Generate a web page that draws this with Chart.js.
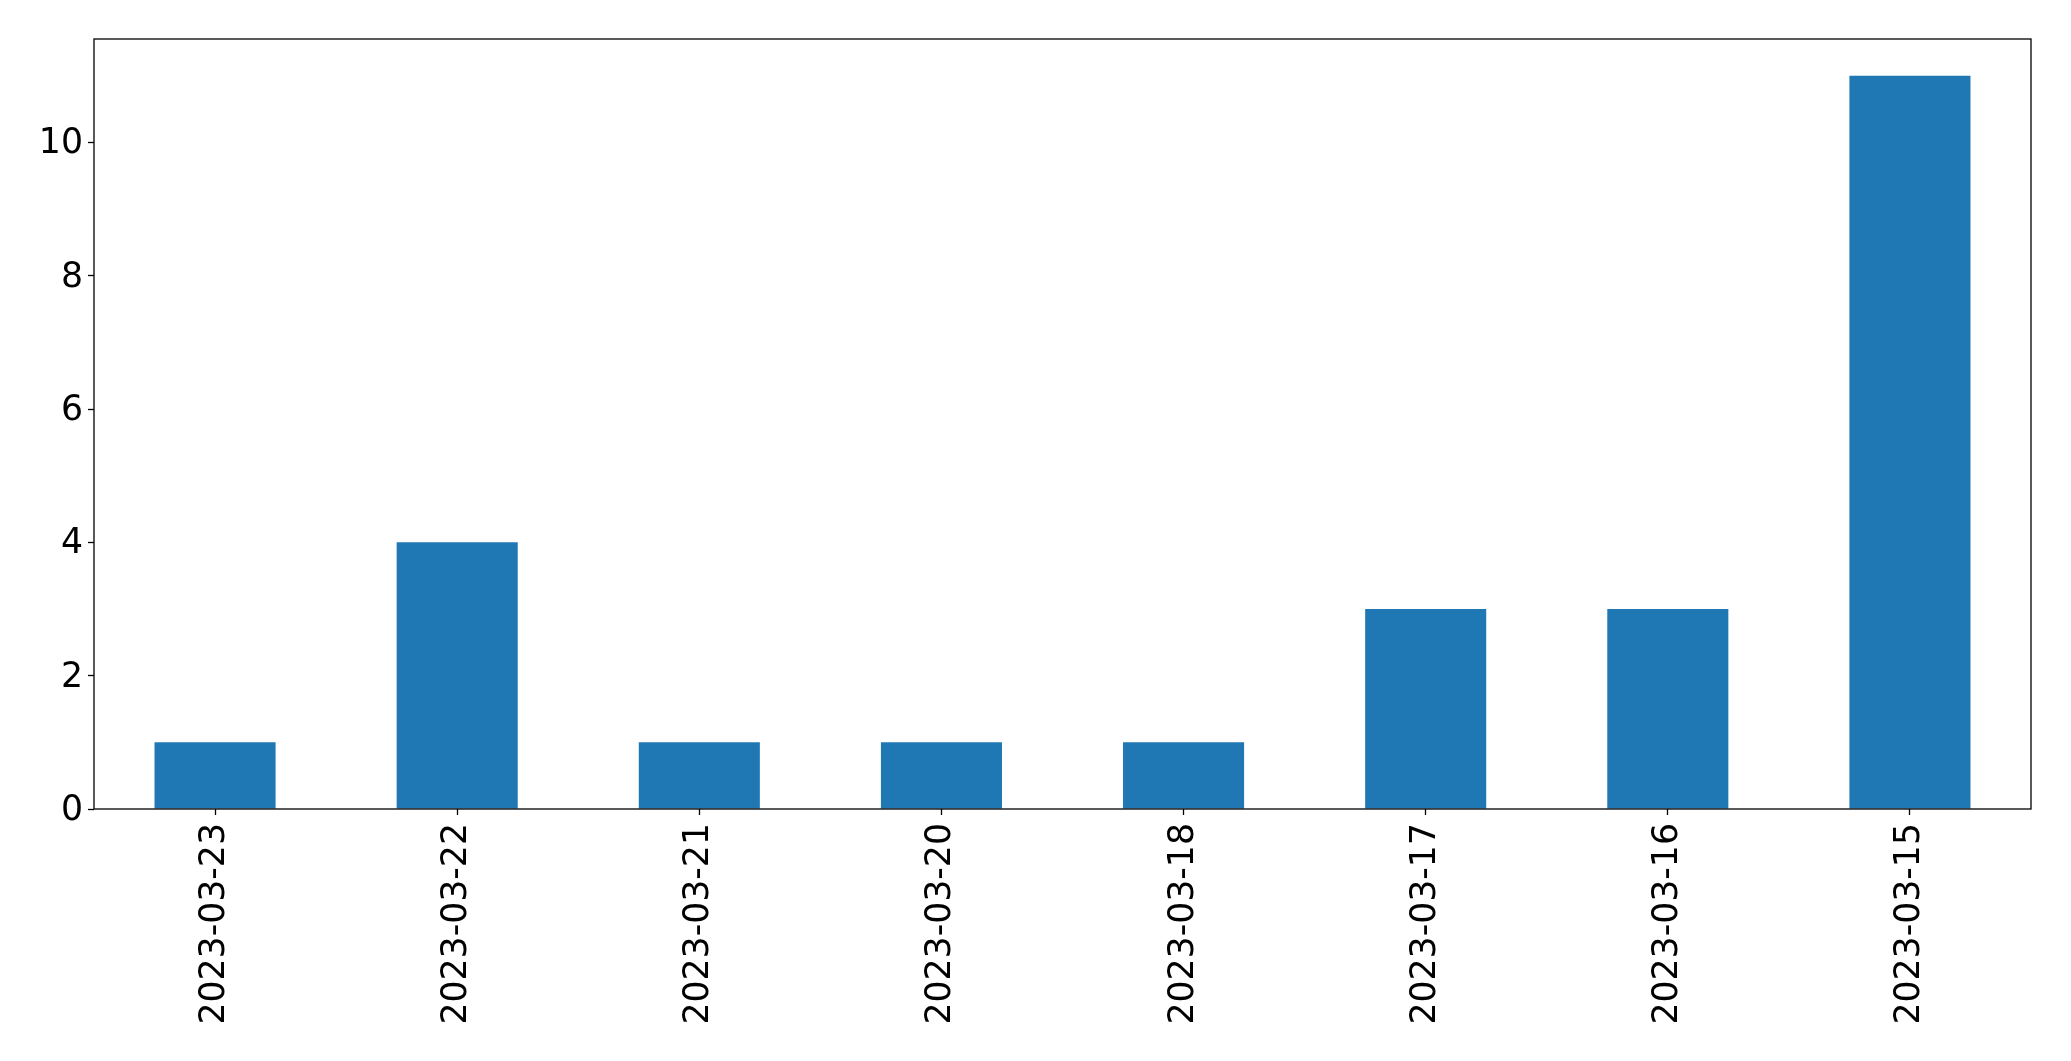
<!DOCTYPE html>
<html>
<head>
<meta charset="utf-8">
<title>Bar chart</title>
<script src="https://cdn.jsdelivr.net/npm/chart.js@4.4.0/dist/chart.umd.min.js"></script>
<style>
  html, body { margin: 0; padding: 0; background: #ffffff; }
  canvas { display: block; }
</style>
</head>
<body>
<canvas id="barChart" width="2071" height="1061"></canvas>
<script>
// dati
const dates = ['2023-03-23', '2023-03-22', '2023-03-21', '2023-03-20', '2023-03-18', '2023-03-17', '2023-03-16', '2023-03-15'];
const counts = [1, 4, 1, 1, 1, 3, 3, 11];
const yTicks = [0, 2, 4, 6, 8, 10];

// cornice completa attorno all'area del grafico
const frame = {
  id: 'frame',
  afterDatasetsDraw(chart) {
    const a = chart.chartArea;
    const ctx = chart.ctx;
    ctx.save();
    ctx.strokeStyle = '#000000';
    ctx.lineWidth = 1.3;
    ctx.strokeRect(a.left, a.top, a.right - a.left, a.bottom - a.top);
    ctx.restore();
  }
};

const ctx = document.getElementById('barChart').getContext('2d');
new Chart(ctx, {
  type: 'bar',
  data: {
    labels: dates,
    datasets: [{
      data: counts,
      backgroundColor: '#1f77b4',
      borderWidth: 0,
      barPercentage: 0.5,
      categoryPercentage: 1.0
    }]
  },
  options: {
    responsive: false,
    devicePixelRatio: 1,
    animation: false,
    layout: { padding: { left: 0, right: 40, top: 39, bottom: 0 } },
    plugins: { legend: { display: false }, tooltip: { enabled: false } },
    scales: {
      x: {
        grid: { display: true, offset: false, drawOnChartArea: false, drawTicks: true, tickLength: 6, color: '#000000', tickWidth: 1.3 },
        border: { display: false },
        ticks: {
          color: '#000000',
          font: { family: 'DejaVu Sans', size: 34.7 },
          minRotation: 90,
          maxRotation: 90,
          padding: 8,
          autoSkip: false
        },
        afterFit(scale) { scale.height = 252; }
      },
      y: {
        min: 0,
        max: 11.55,
        grid: { display: true, drawOnChartArea: false, drawTicks: true, tickLength: 6, color: '#000000', tickWidth: 1.3 },
        border: { display: false },
        ticks: {
          color: '#000000',
          font: { family: 'DejaVu Sans', size: 34.7 },
          stepSize: 2,
          includeBounds: false,
          padding: 5,
          labelOffset: 2
        },
        afterBuildTicks(scale) { scale.ticks = yTicks.map(v => ({ value: v })); },
        afterFit(scale) { scale.width = 94; }
      }
    }
  },
  plugins: [frame]
});
</script>
</body>
</html>
